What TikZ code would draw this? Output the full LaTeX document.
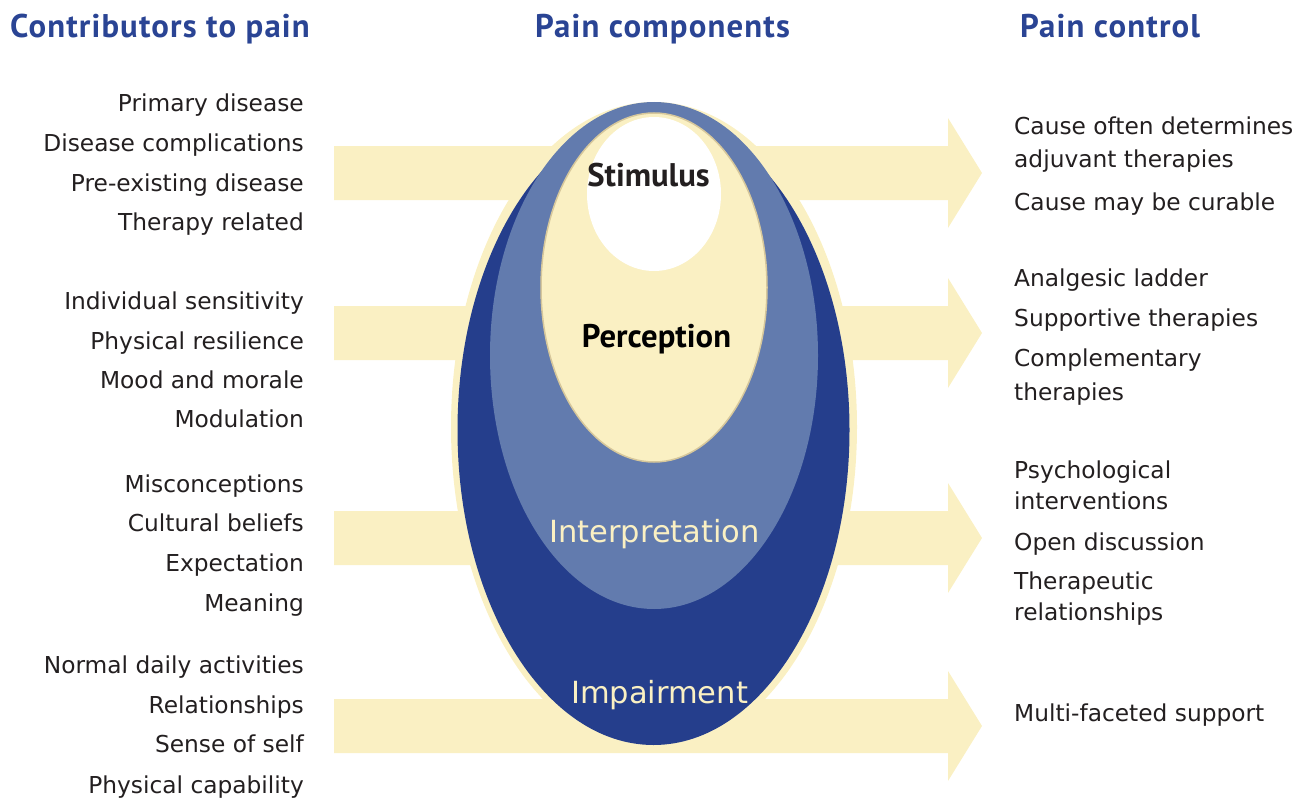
\documentclass[tikz,border=0pt]{standalone}
\usepackage{fontspec}
\newfontfamily\bodyfont{DejaVu Sans}
\newfontfamily\headfont{PT Sans}
\newfontfamily\titlefont[LetterSpace=3.5]{PT Sans}

\definecolor{paleyellow}{RGB}{250,240,195}
\definecolor{deepblue}{RGB}{37,62,140}
\definecolor{softblue}{RGB}{98,123,174}
\definecolor{tanline}{RGB}{214,199,155}
\definecolor{headblue}{RGB}{42,68,148}
\definecolor{ink}{RGB}{35,31,32}

\tikzset{
  bodytext/.style={inner sep=0pt, text=ink, font=\bodyfont\fontsize{23.3pt}{28pt}\selectfont},
  leftitem/.style={bodytext, anchor=base east},
  rightitem/.style={bodytext, anchor=base west},
  heading/.style={inner sep=0pt, anchor=base west, text=headblue, font=\titlefont\bfseries\fontsize{32.8pt}{36pt}\selectfont},
  boldlabel/.style={inner sep=0pt, anchor=base, text=ink, font=\headfont\bfseries\fontsize{32.7pt}{36pt}\selectfont},
  lightlabel/.style={inner sep=0pt, anchor=base, text=paleyellow, font=\bodyfont\fontsize{30.5pt}{34pt}\selectfont},
  blockarrow/.style={fill=paleyellow}
}

\begin{document}
\begin{tikzpicture}[x=1pt, y=-1pt]
\useasboundingbox (0,0) rectangle (1302,800);

% broad arrows running from contributors to control
\foreach \c in {173,333,538,726}{
  \fill[blockarrow] (334,\c-27) -- (948,\c-27) -- (948,\c-55) -- (982,\c)
    -- (948,\c+55) -- (948,\c+27) -- (334,\c+27) -- cycle;
}

% nested pain components
\fill[paleyellow] (654,427) ellipse [x radius=203pt, y radius=325pt];
\fill[deepblue] (653.5,430) ellipse [x radius=196pt, y radius=315pt];
\fill[softblue] (654,355.5) ellipse [x radius=164pt, y radius=253.5pt];
\filldraw[fill=paleyellow, draw=tanline, line width=1.5pt] (654,287.5) ellipse [x radius=113pt, y radius=174.5pt];
\fill[white] (654,194) ellipse [x radius=67pt, y radius=77pt];

% component labels
\node[boldlabel] (stimulus) at (648.5,186) {Stimulus};
\node[boldlabel, text=black] (perception) at (656.5,347) {Perception};
\node[lightlabel] (interpretation) at (654.5,542) {Interpretation};
\node[lightlabel] (impairment) at (659.5,703) {Impairment};

% column headings
\node[heading] (hleft) at (10,38) {Contributors to pain};
\node[heading] (hmid) at (535,38) {Pain components};
\node[heading] (hright) at (1020,38) {Pain control};

% contributors
\node[leftitem] (l1) at (304,111) {Primary disease};
\node[leftitem] (l2) at (304,151) {Disease complications};
\node[leftitem] (l3) at (304,191) {Pre-existing disease};
\node[leftitem] (l4) at (304,230) {Therapy related};
\node[leftitem] (l5) at (304,309) {Individual sensitivity};
\node[leftitem] (l6) at (304,349) {Physical resilience};
\node[leftitem] (l7) at (304,388) {Mood and morale};
\node[leftitem] (l8) at (304,427) {Modulation};
\node[leftitem] (l9) at (304,492) {Misconceptions};
\node[leftitem] (l10) at (304,531) {Cultural beliefs};
\node[leftitem] (l11) at (304,571) {Expectation};
\node[leftitem] (l12) at (304,611) {Meaning};
\node[leftitem] (l13) at (304,673) {Normal daily activities};
\node[leftitem] (l14) at (304,713) {Relationships};
\node[leftitem] (l15) at (304,752) {Sense of self};
\node[leftitem] (l16) at (304,793.5) {Physical capability};

% control measures
\node[rightitem] (r1) at (1014,135) {Cause often determines};
\node[rightitem] (r2) at (1014,167) {adjuvant therapies};
\node[rightitem] (r3) at (1014,210) {Cause may be curable};
\node[rightitem] (r4) at (1014,286) {Analgesic ladder};
\node[rightitem] (r5) at (1014,326) {Supportive therapies};
\node[rightitem] (r6) at (1014,366) {Complementary};
\node[rightitem] (r7) at (1014,400) {therapies};
\node[rightitem] (r8) at (1014,478) {Psychological};
\node[rightitem] (r9) at (1014,509) {interventions};
\node[rightitem] (r10) at (1014,550) {Open discussion};
\node[rightitem] (r11) at (1014,589) {Therapeutic};
\node[rightitem] (r12) at (1014,620) {relationships};
\node[rightitem] (r13) at (1014,721) {Multi-faceted support};
\end{tikzpicture}
\end{document}
